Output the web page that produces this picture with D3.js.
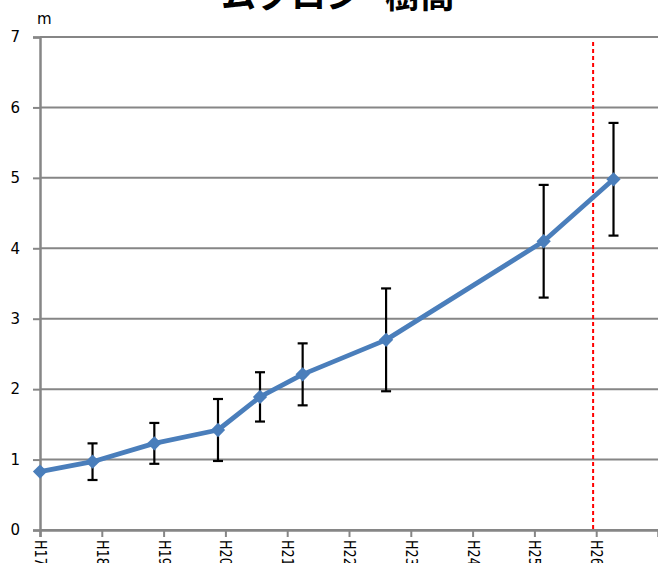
<!DOCTYPE html>
<html>
<head>
<meta charset="utf-8">
<script src="https://cdn.jsdelivr.net/npm/d3@7"></script>
<style>
  html, body { margin: 0; padding: 0; background: #fff; }
  svg { display: block; }
</style>
</head>
<body>
<svg id="chart" width="658" height="563"></svg>
<script>
// Survey year labels (Heisei era) for the date axis
const yearLabels = ["H17", "H18", "H19", "H20", "H21", "H22", "H23", "H24", "H25", "H26"];
// Survey timing, in years after the start of H17
const surveyTimes = [0, 0.85, 1.85, 2.88, 3.56, 4.25, 5.60, 8.15, 9.28];
// Mean tree height (m)
const meanHeight = [0.83, 0.97, 1.23, 1.42, 1.89, 2.21, 2.70, 4.10, 4.98];
// Standard deviation shown as error bars (m); first survey has none
const heightSD = [null, 0.26, 0.29, 0.44, 0.35, 0.44, 0.73, 0.80, 0.80];
// Reference marker (dashed red line), years after the start of H17
const markerTime = [8.95];
const yTicks = [0, 1, 2, 3, 4, 5, 6, 7];

const svg = d3.select("#chart");
const x = d3.scaleLinear().domain([0, 10]).range([40, 658]);
const y = d3.scaleLinear().domain([0, 7]).range([530, 37]);

const grey = "#868686";
const blue = "#4a7ebb";
const labelFont = "DejaVu Sans, Verdana, sans-serif";

// Horizontal gridlines
svg.append("g")
  .selectAll("line")
  .data(yTicks)
  .join("line")
  .attr("x1", x(0)).attr("x2", 658)
  .attr("y1", d => y(d)).attr("y2", d => y(d))
  .attr("stroke", grey).attr("stroke-width", 2);

// Y axis
const yAxis = svg.append("g")
  .attr("transform", `translate(${x(0)},0)`)
  .call(d3.axisLeft(y).tickValues(yTicks).tickSize(7).tickPadding(13).tickFormat(d3.format("d")));
yAxis.select(".domain").attr("stroke", grey).attr("stroke-width", 2.5);
yAxis.selectAll(".tick line").attr("stroke", grey).attr("stroke-width", 2);
yAxis.selectAll(".tick text")
  .attr("font-family", labelFont)
  .attr("font-size", 15).attr("fill", "#000");

// X axis with rotated, narrow year labels
const xAxis = svg.append("g")
  .attr("transform", `translate(0,${y(0)})`)
  .call(d3.axisBottom(x).tickValues(d3.range(yearLabels.length)).tickSize(7)
    .tickFormat(i => yearLabels[i]));
xAxis.select(".domain").attr("stroke", grey).attr("stroke-width", 2.5);
xAxis.selectAll(".tick line").attr("stroke", grey).attr("stroke-width", 2);
xAxis.selectAll(".tick text")
  .attr("font-family", labelFont)
  .attr("font-size", 15).attr("fill", "#000")
  .attr("text-anchor", "start")
  .attr("transform", "translate(0,10) rotate(90) scale(0.85,1)")
  .attr("x", 0).attr("y", 0).attr("dy", "0.36em");

// Unit label
svg.append("text")
  .attr("x", 37).attr("y", 24)
  .attr("font-family", labelFont)
  .attr("font-size", 15)
  .text("m");

// Title
svg.append("text")
  .attr("x", 338).attr("y", 8)
  .attr("text-anchor", "middle")
  .attr("font-family", "Noto Sans CJK JP, sans-serif")
  .attr("font-weight", "bold")
  .attr("font-size", 35)
  .attr("word-spacing", 16)
  .attr("xml:space", "preserve")
  .text("ムクロジ 樹高");

// Dashed reference line
svg.append("g")
  .selectAll("line")
  .data(markerTime)
  .join("line")
  .attr("x1", d => x(d)).attr("x2", d => x(d))
  .attr("y1", 42).attr("y2", y(0))
  .attr("stroke", "#ff0000").attr("stroke-width", 2)
  .attr("stroke-dasharray", "4,3");

const pts = surveyTimes.map((t, i) => ({ t, v: meanHeight[i], sd: heightSD[i] }));

// Error bars
const eb = svg.append("g").attr("stroke", "#000").attr("stroke-width", 2.2);
pts.filter(d => d.sd != null).forEach(d => {
  const cx = x(d.t), yt = y(d.v + d.sd), yb = y(d.v - d.sd);
  eb.append("line").attr("x1", cx).attr("x2", cx).attr("y1", yt).attr("y2", yb);
  eb.append("line").attr("x1", cx - 5).attr("x2", cx + 5).attr("y1", yt).attr("y2", yt);
  eb.append("line").attr("x1", cx - 5).attr("x2", cx + 5).attr("y1", yb).attr("y2", yb);
});

// Height line
svg.append("path")
  .datum(pts)
  .attr("fill", "none")
  .attr("stroke", blue)
  .attr("stroke-width", 4.8)
  .attr("stroke-linejoin", "round")
  .attr("d", d3.line().x(d => x(d.t)).y(d => y(d.v)));

// Diamond markers
svg.append("g")
  .selectAll("path")
  .data(pts)
  .join("path")
  .attr("transform", d => `translate(${x(d.t)},${y(d.v)})`)
  .attr("d", d3.symbol().type(d3.symbolDiamond2).size(130))
  .attr("fill", blue);
</script>
</body>
</html>
